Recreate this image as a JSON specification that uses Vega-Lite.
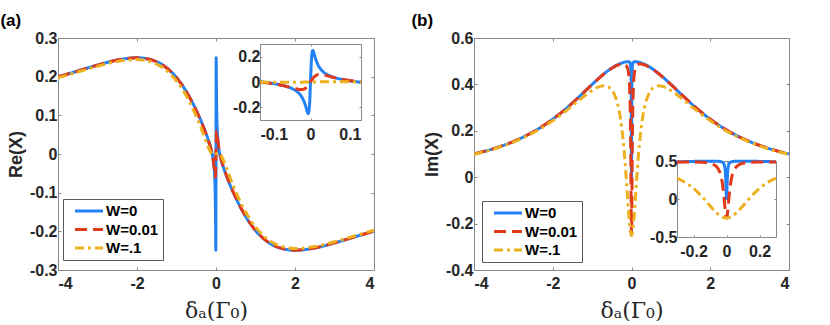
{
"$schema": "https://vega.github.io/schema/vega-lite/v6.json",
"padding": {"left": 0, "top": 12, "right": 0, "bottom": 0},
"datasets": {"curves": [
{"d":-4,"s":"W=0","re":0.1994,"im":0.1},{"d":-3.5,"s":"W=0","re":0.2147,"im":0.1231},{"d":-3,"s":"W=0","re":0.23,"im":0.1538},{"d":-2.5,"s":"W=0","re":0.243,"im":0.1951},{"d":-2,"s":"W=0","re":0.2489,"im":0.25},{"d":-1.6,"s":"W=0","re":0.2425,"im":0.3049},{"d":-1.3,"s":"W=0","re":0.2267,"im":0.3515},{"d":-1,"s":"W=0","re":0.1978,"im":0.4},{"d":-0.85,"s":"W=0","re":0.1773,"im":0.4235},{"d":-0.7,"s":"W=0","re":0.1527,"im":0.4454},{"d":-0.55,"s":"W=0","re":0.1237,"im":0.4648},{"d":-0.45,"s":"W=0","re":0.1021,"im":0.4759},{"d":-0.35,"s":"W=0","re":0.0785,"im":0.4851},{"d":-0.3,"s":"W=0","re":0.0659,"im":0.4889},{"d":-0.25,"s":"W=0","re":0.0525,"im":0.4922},{"d":-0.2,"s":"W=0","re":0.0383,"im":0.4948},{"d":-0.15,"s":"W=0","re":0.0223,"im":0.4968},{"d":-0.1,"s":"W=0","re":0.0025,"im":0.4977},{"d":-0.08,"s":"W=0","re":-0.008,"im":0.4976},{"d":-0.06,"s":"W=0","re":-0.0223,"im":0.4968},{"d":-0.05,"s":"W=0","re":-0.0321,"im":0.4957},{"d":-0.04,"s":"W=0","re":-0.0455,"im":0.4936},{"d":-0.03,"s":"W=0","re":-0.0658,"im":0.4889},{"d":-0.025,"s":"W=0","re":-0.0809,"im":0.4842},{"d":-0.02,"s":"W=0","re":-0.1021,"im":0.4759},{"d":-0.015,"s":"W=0","re":-0.1339,"im":0.4587},{"d":-0.01,"s":"W=0","re":-0.1846,"im":0.4158},{"d":-0.007,"s":"W=0","re":-0.2257,"im":0.3538},{"d":-0.0045,"s":"W=0","re":-0.2489,"im":0.25},{"d":-0.002,"s":"W=0","re":-0.1851,"im":0.0825},{"d":0,"s":"W=0","re":0,"im":0},
{"d":0.002,"s":"W=0","re":0.1851,"im":0.0825},{"d":0.0045,"s":"W=0","re":0.2489,"im":0.25},{"d":0.007,"s":"W=0","re":0.2257,"im":0.3538},{"d":0.01,"s":"W=0","re":0.1846,"im":0.4158},{"d":0.015,"s":"W=0","re":0.1339,"im":0.4587},{"d":0.02,"s":"W=0","re":0.1021,"im":0.4759},{"d":0.025,"s":"W=0","re":0.0809,"im":0.4842},{"d":0.03,"s":"W=0","re":0.0658,"im":0.4889},{"d":0.04,"s":"W=0","re":0.0455,"im":0.4936},{"d":0.05,"s":"W=0","re":0.0321,"im":0.4957},{"d":0.06,"s":"W=0","re":0.0223,"im":0.4968},{"d":0.08,"s":"W=0","re":0.008,"im":0.4976},{"d":0.1,"s":"W=0","re":-0.0025,"im":0.4977},{"d":0.15,"s":"W=0","re":-0.0223,"im":0.4968},{"d":0.2,"s":"W=0","re":-0.0383,"im":0.4948},{"d":0.25,"s":"W=0","re":-0.0525,"im":0.4922},{"d":0.3,"s":"W=0","re":-0.0659,"im":0.4889},{"d":0.35,"s":"W=0","re":-0.0785,"im":0.4851},{"d":0.45,"s":"W=0","re":-0.1021,"im":0.4759},{"d":0.55,"s":"W=0","re":-0.1237,"im":0.4648},{"d":0.7,"s":"W=0","re":-0.1527,"im":0.4454},{"d":0.85,"s":"W=0","re":-0.1773,"im":0.4235},{"d":1,"s":"W=0","re":-0.1978,"im":0.4},{"d":1.3,"s":"W=0","re":-0.2267,"im":0.3515},{"d":1.6,"s":"W=0","re":-0.2425,"im":0.3049},{"d":2,"s":"W=0","re":-0.2489,"im":0.25},{"d":2.5,"s":"W=0","re":-0.243,"im":0.1951},{"d":3,"s":"W=0","re":-0.23,"im":0.1538},{"d":3.5,"s":"W=0","re":-0.2147,"im":0.1231},{"d":4,"s":"W=0","re":-0.1994,"im":0.1},
{"d":-4,"s":"W=0.01","re":0.1994,"im":0.1},{"d":-3.5,"s":"W=0.01","re":0.2146,"im":0.1231},{"d":-3,"s":"W=0.01","re":0.2299,"im":0.1538},{"d":-2.5,"s":"W=0.01","re":0.2429,"im":0.1951},{"d":-2,"s":"W=0.01","re":0.2487,"im":0.2499},{"d":-1.6,"s":"W=0.01","re":0.2423,"im":0.3048},{"d":-1.3,"s":"W=0.01","re":0.2265,"im":0.3513},{"d":-1,"s":"W=0.01","re":0.1974,"im":0.3997},{"d":-0.85,"s":"W=0.01","re":0.1769,"im":0.4231},{"d":-0.7,"s":"W=0.01","re":0.1522,"im":0.4448},{"d":-0.55,"s":"W=0.01","re":0.1231,"im":0.4639},{"d":-0.45,"s":"W=0.01","re":0.1013,"im":0.4744},{"d":-0.35,"s":"W=0.01","re":0.0775,"im":0.4827},{"d":-0.3,"s":"W=0.01","re":0.0647,"im":0.4857},{"d":-0.25,"s":"W=0.01","re":0.0512,"im":0.4875},{"d":-0.2,"s":"W=0.01","re":0.0366,"im":0.4876},{"d":-0.15,"s":"W=0.01","re":0.0203,"im":0.4841},{"d":-0.1,"s":"W=0.01","re":-0.0001,"im":0.4699},{"d":-0.08,"s":"W=0.01","re":-0.0106,"im":0.4551},{"d":-0.06,"s":"W=0.01","re":-0.024,"im":0.4246},{"d":-0.05,"s":"W=0.01","re":-0.0323,"im":0.3963},{"d":-0.04,"s":"W=0.01","re":-0.042,"im":0.3498},{"d":-0.03,"s":"W=0.01","re":-0.0525,"im":0.2691},{"d":-0.025,"s":"W=0.01","re":-0.0572,"im":0.2072},{"d":-0.02,"s":"W=0.01","re":-0.06,"im":0.125},{"d":-0.015,"s":"W=0.01","re":-0.0587,"im":0.02},{"d":-0.01,"s":"W=0.01","re":-0.0495,"im":-0.1},{"d":-0.007,"s":"W=0.01","re":-0.0388,"im":-0.1682},{"d":-0.0045,"s":"W=0.01","re":-0.0267,"im":-0.2139},{"d":-0.002,"s":"W=0.01","re":-0.0124,"im":-0.2426},{"d":0,"s":"W=0.01","re":0,"im":-0.25},
{"d":0.002,"s":"W=0.01","re":0.0124,"im":-0.2426},{"d":0.0045,"s":"W=0.01","re":0.0267,"im":-0.2139},{"d":0.007,"s":"W=0.01","re":0.0388,"im":-0.1682},{"d":0.01,"s":"W=0.01","re":0.0495,"im":-0.1},{"d":0.015,"s":"W=0.01","re":0.0587,"im":0.02},{"d":0.02,"s":"W=0.01","re":0.06,"im":0.125},{"d":0.025,"s":"W=0.01","re":0.0572,"im":0.2072},{"d":0.03,"s":"W=0.01","re":0.0525,"im":0.2691},{"d":0.04,"s":"W=0.01","re":0.042,"im":0.3498},{"d":0.05,"s":"W=0.01","re":0.0323,"im":0.3963},{"d":0.06,"s":"W=0.01","re":0.024,"im":0.4246},{"d":0.08,"s":"W=0.01","re":0.0106,"im":0.4551},{"d":0.1,"s":"W=0.01","re":0.0001,"im":0.4699},{"d":0.15,"s":"W=0.01","re":-0.0203,"im":0.4841},{"d":0.2,"s":"W=0.01","re":-0.0366,"im":0.4876},{"d":0.25,"s":"W=0.01","re":-0.0512,"im":0.4875},{"d":0.3,"s":"W=0.01","re":-0.0647,"im":0.4857},{"d":0.35,"s":"W=0.01","re":-0.0775,"im":0.4827},{"d":0.45,"s":"W=0.01","re":-0.1013,"im":0.4744},{"d":0.55,"s":"W=0.01","re":-0.1231,"im":0.4639},{"d":0.7,"s":"W=0.01","re":-0.1522,"im":0.4448},{"d":0.85,"s":"W=0.01","re":-0.1769,"im":0.4231},{"d":1,"s":"W=0.01","re":-0.1974,"im":0.3997},{"d":1.3,"s":"W=0.01","re":-0.2265,"im":0.3513},{"d":1.6,"s":"W=0.01","re":-0.2423,"im":0.3048},{"d":2,"s":"W=0.01","re":-0.2487,"im":0.2499},{"d":2.5,"s":"W=0.01","re":-0.2429,"im":0.1951},{"d":3,"s":"W=0.01","re":-0.2299,"im":0.1538},{"d":3.5,"s":"W=0.01","re":-0.2146,"im":0.1231},{"d":4,"s":"W=0.01","re":-0.1994,"im":0.1},
{"d":-4,"s":"W=.1","re":0.1971,"im":0.0983},{"d":-3.5,"s":"W=.1","re":0.2121,"im":0.1209},{"d":-3,"s":"W=.1","re":0.227,"im":0.1509},{"d":-2.5,"s":"W=.1","re":0.2393,"im":0.1908},{"d":-2,"s":"W=.1","re":0.2443,"im":0.2433},{"d":-1.6,"s":"W=.1","re":0.2368,"im":0.2944},{"d":-1.3,"s":"W=.1","re":0.2198,"im":0.3358},{"d":-1,"s":"W=.1","re":0.1889,"im":0.3739},{"d":-0.85,"s":"W=.1","re":0.1671,"im":0.3878},{"d":-0.7,"s":"W=.1","re":0.1406,"im":0.394},{"d":-0.55,"s":"W=.1","re":0.1092,"im":0.3849},{"d":-0.45,"s":"W=.1","re":0.0854,"im":0.3624},{"d":-0.35,"s":"W=.1","re":0.0595,"im":0.3144},{"d":-0.3,"s":"W=.1","re":0.046,"im":0.2743},{"d":-0.25,"s":"W=.1","re":0.0324,"im":0.2177},{"d":-0.2,"s":"W=.1","re":0.0193,"im":0.1393},{"d":-0.15,"s":"W=.1","re":0.0079,"im":0.0352},{"d":-0.1,"s":"W=.1","re":0,"im":-0.0886},{"d":-0.08,"s":"W=.1","re":-0.0016,"im":-0.1379},{"d":-0.06,"s":"W=.1","re":-0.0024,"im":-0.1824},{"d":-0.05,"s":"W=.1","re":-0.0024,"im":-0.2017},{"d":-0.04,"s":"W=.1","re":-0.0022,"im":-0.2184},{"d":-0.03,"s":"W=.1","re":-0.0018,"im":-0.2319},{"d":-0.025,"s":"W=.1","re":-0.0016,"im":-0.2373},{"d":-0.02,"s":"W=.1","re":-0.0013,"im":-0.2418},{"d":-0.015,"s":"W=.1","re":-0.001,"im":-0.2454},{"d":-0.01,"s":"W=.1","re":-0.0007,"im":-0.2479},{"d":-0.007,"s":"W=.1","re":-0.0005,"im":-0.249},{"d":-0.0045,"s":"W=.1","re":-0.0003,"im":-0.2496},{"d":-0.002,"s":"W=.1","re":-0.0001,"im":-0.2499},{"d":0,"s":"W=.1","re":0,"im":-0.25},
{"d":0.002,"s":"W=.1","re":0.0001,"im":-0.2499},{"d":0.0045,"s":"W=.1","re":0.0003,"im":-0.2496},{"d":0.007,"s":"W=.1","re":0.0005,"im":-0.249},{"d":0.01,"s":"W=.1","re":0.0007,"im":-0.2479},{"d":0.015,"s":"W=.1","re":0.001,"im":-0.2454},{"d":0.02,"s":"W=.1","re":0.0013,"im":-0.2418},{"d":0.025,"s":"W=.1","re":0.0016,"im":-0.2373},{"d":0.03,"s":"W=.1","re":0.0018,"im":-0.2319},{"d":0.04,"s":"W=.1","re":0.0022,"im":-0.2184},{"d":0.05,"s":"W=.1","re":0.0024,"im":-0.2017},{"d":0.06,"s":"W=.1","re":0.0024,"im":-0.1824},{"d":0.08,"s":"W=.1","re":0.0016,"im":-0.1379},{"d":0.1,"s":"W=.1","re":0,"im":-0.0886},{"d":0.15,"s":"W=.1","re":-0.0079,"im":0.0352},{"d":0.2,"s":"W=.1","re":-0.0193,"im":0.1393},{"d":0.25,"s":"W=.1","re":-0.0324,"im":0.2177},{"d":0.3,"s":"W=.1","re":-0.046,"im":0.2743},{"d":0.35,"s":"W=.1","re":-0.0595,"im":0.3144},{"d":0.45,"s":"W=.1","re":-0.0854,"im":0.3624},{"d":0.55,"s":"W=.1","re":-0.1092,"im":0.3849},{"d":0.7,"s":"W=.1","re":-0.1406,"im":0.394},{"d":0.85,"s":"W=.1","re":-0.1671,"im":0.3878},{"d":1,"s":"W=.1","re":-0.1889,"im":0.3739},{"d":1.3,"s":"W=.1","re":-0.2198,"im":0.3358},{"d":1.6,"s":"W=.1","re":-0.2368,"im":0.2944},{"d":2,"s":"W=.1","re":-0.2443,"im":0.2433},{"d":2.5,"s":"W=.1","re":-0.2393,"im":0.1908},{"d":3,"s":"W=.1","re":-0.227,"im":0.1509},{"d":3.5,"s":"W=.1","re":-0.2121,"im":0.1209},{"d":4,"s":"W=.1","re":-0.1971,"im":0.0983}
]},
"config": {
  "font": "Liberation Sans",
  "view": {"stroke": null},
  "axis": {"grid": false, "labelFont": "Liberation Sans", "labelFontWeight": "bold", "labelFontSize": 16, "labelColor": "#262626", "domainColor": "#8a8a8a", "tickColor": "#8a8a8a", "titleFont": "Liberation Sans", "titleFontWeight": "bold", "titleFontSize": 18, "titleColor": "#262626"},
  "legend": {"labelFont": "Liberation Sans", "labelFontWeight": "bold", "labelFontSize": 15, "labelColor": "#000000", "title": null, "symbolType": "M-2.15,0H2.15", "symbolSize": 169, "symbolStrokeWidth": 3, "strokeColor": "#595959", "fillColor": "#ffffff", "padding": 4, "rowPadding": 2.5, "symbolOffset": 14, "labelOffset": 9},
  "title": {"font": "Liberation Sans", "fontWeight": "bold", "fontSize": 17, "color": "#000000"}
},
"spacing": 36,
"resolve": {"scale": {"color": "independent", "strokeDash": "independent"}},
"hconcat": [
{
  "title": {"text": "(a)", "anchor": "start", "frame": "bounds", "offset": 0, "dx": -7},
  "width": 316, "height": 232,
  "data": {"name": "curves"},
  "resolve": {"scale": {"x": "independent", "y": "independent"}},
  "layer": [
    {"layer": [
      {"mark": {"type": "line", "strokeWidth": 3, "interpolate": "monotone", "clip": true},
       "encoding": {
        "x": {"field": "d", "type": "quantitative", "scale": {"domain": [-4, 4], "nice": false, "zero": false},
              "axis": {"orient": "bottom", "values": [-4, -2, 0, 2, 4], "format": "~g", "labelExpr": "replace(datum.label, '−', '-')", "title": "δₐ(Γ₀)", "titleFont": "DejaVu Serif", "titleFontWeight": "normal", "titleFontSize": 22, "tickSize": -3, "labelPadding": 8, "titlePadding": 9}},
        "y": {"field": "re", "type": "quantitative", "scale": {"domain": [-0.3, 0.3], "nice": false, "zero": false},
              "axis": {"orient": "left", "values": [-0.3, -0.2, -0.1, 0, 0.1, 0.2, 0.3], "format": "~g", "labelExpr": "replace(datum.label, '−', '-')", "title": "Re(X)", "tickSize": -3, "labelPadding": 4, "titlePadding": 4}},
        "color": {"field": "s", "type": "nominal", "scale": {"domain": ["W=0", "W=0.01", "W=.1"], "range": ["#2181F5", "#E2391B", "#EDB120"]},
                  "legend": {"orient": "none", "legendX": 5, "legendY": 161}},
        "strokeDash": {"field": "s", "type": "nominal", "scale": {"domain": ["W=0", "W=0.01", "W=.1"], "range": [[1, 0], [12, 6], [9, 4, 3, 4]]},
                  "legend": {"orient": "none", "legendX": 5, "legendY": 161}}
       }},
      {"mark": {"type": "line", "opacity": 0},
       "encoding": {
        "x": {"field": "d", "type": "quantitative", "scale": {"domain": [-4, 4], "nice": false, "zero": false},
              "axis": {"orient": "top", "values": [-4, -2, 0, 2, 4], "labels": false, "title": null, "tickSize": -3}},
        "y": {"field": "re", "type": "quantitative", "scale": {"domain": [-0.3, 0.3], "nice": false, "zero": false},
              "axis": {"orient": "right", "values": [-0.3, -0.2, -0.1, 0, 0.1, 0.2, 0.3], "labels": false, "title": null, "tickSize": -3}}
       }}
    ]},
    {"transform": [{"filter": "datum.d >= -0.1 && datum.d <= 0.1"}],
     "layer": [
      {"mark": {"type": "line", "strokeWidth": 3, "interpolate": "monotone", "clip": true},
       "encoding": {
        "x": {"field": "d", "type": "quantitative", "scale": {"domain": [-0.1, 0.1], "nice": false, "zero": false, "range": [202, 303]},
              "axis": {"orient": "bottom", "offset": -150, "values": [-0.1, 0, 0.1], "format": "~g", "labelExpr": "replace(datum.label, '−', '-')", "title": null, "tickSize": -2, "labelPadding": 8}},
        "y": {"field": "re", "type": "quantitative", "scale": {"domain": [-0.3, 0.3], "nice": false, "zero": false, "range": [82, 6]},
              "axis": {"orient": "left", "offset": -202, "values": [-0.2, 0, 0.2], "format": "~g", "labelExpr": "replace(datum.label, '−', '-')", "title": null, "tickSize": -2, "labelPadding": 2}},
        "color": {"field": "s", "type": "nominal", "legend": null},
        "strokeDash": {"field": "s", "type": "nominal", "legend": null}
       }},
      {"mark": {"type": "line", "opacity": 0},
       "encoding": {
        "x": {"field": "d", "type": "quantitative", "scale": {"domain": [-0.1, 0.1], "nice": false, "zero": false, "range": [202, 303]},
              "axis": {"orient": "top", "offset": -6, "values": [-0.1, 0, 0.1], "labels": false, "title": null, "tickSize": -2}},
        "y": {"field": "re", "type": "quantitative", "scale": {"domain": [-0.3, 0.3], "nice": false, "zero": false, "range": [82, 6]},
              "axis": {"orient": "right", "offset": -13, "values": [-0.2, 0, 0.2], "labels": false, "title": null, "tickSize": -2}}
       }}
    ]}
  ]
},
{
  "title": {"text": "(b)", "anchor": "start", "frame": "bounds", "offset": 0, "dx": -12},
  "width": 315, "height": 232,
  "data": {"name": "curves"},
  "resolve": {"scale": {"x": "independent", "y": "independent"}},
  "layer": [
    {"layer": [
      {"mark": {"type": "line", "strokeWidth": 3, "interpolate": "monotone", "clip": true},
       "encoding": {
        "x": {"field": "d", "type": "quantitative", "scale": {"domain": [-4, 4], "nice": false, "zero": false},
              "axis": {"orient": "bottom", "values": [-4, -2, 0, 2, 4], "format": "~g", "labelExpr": "replace(datum.label, '−', '-')", "title": "δₐ(Γ₀)", "titleFont": "DejaVu Serif", "titleFontWeight": "normal", "titleFontSize": 22, "tickSize": -3, "labelPadding": 8, "titlePadding": 9}},
        "y": {"field": "im", "type": "quantitative", "scale": {"domain": [-0.4, 0.6], "nice": false, "zero": false},
              "axis": {"orient": "left", "values": [-0.4, -0.2, 0, 0.2, 0.4, 0.6], "format": "~g", "labelExpr": "replace(datum.label, '−', '-')", "title": "Im(X)", "tickSize": -3, "labelPadding": 4, "titlePadding": 4}},
        "color": {"field": "s", "type": "nominal", "scale": {"domain": ["W=0", "W=0.01", "W=.1"], "range": ["#2181F5", "#E2391B", "#EDB120"]},
                  "legend": {"orient": "none", "legendX": 8, "legendY": 163}},
        "strokeDash": {"field": "s", "type": "nominal", "scale": {"domain": ["W=0", "W=0.01", "W=.1"], "range": [[1, 0], [12, 6], [9, 4, 3, 4]]},
                  "legend": {"orient": "none", "legendX": 8, "legendY": 163}}
       }},
      {"mark": {"type": "line", "opacity": 0},
       "encoding": {
        "x": {"field": "d", "type": "quantitative", "scale": {"domain": [-4, 4], "nice": false, "zero": false},
              "axis": {"orient": "top", "values": [-4, -2, 0, 2, 4], "labels": false, "title": null, "tickSize": -3}},
        "y": {"field": "im", "type": "quantitative", "scale": {"domain": [-0.4, 0.6], "nice": false, "zero": false},
              "axis": {"orient": "right", "values": [-0.4, -0.2, 0, 0.2, 0.4, 0.6], "labels": false, "title": null, "tickSize": -3}}
       }}
    ]},
    {"transform": [{"filter": "datum.d >= -0.3 && datum.d <= 0.3"}],
     "layer": [
      {"mark": {"type": "line", "strokeWidth": 3, "interpolate": "monotone", "clip": true},
       "encoding": {
        "x": {"field": "d", "type": "quantitative", "scale": {"domain": [-0.3, 0.3], "nice": false, "zero": false, "range": [203, 302]},
              "axis": {"orient": "bottom", "offset": -33, "values": [-0.2, 0, 0.2], "format": "~g", "labelExpr": "replace(datum.label, '−', '-')", "title": null, "tickSize": -2, "labelPadding": 8}},
        "y": {"field": "im", "type": "quantitative", "scale": {"domain": [-0.5, 0.5], "nice": false, "zero": false, "range": [199, 123]},
              "axis": {"orient": "left", "offset": -203, "values": [-0.5, 0, 0.5], "format": "~g", "labelExpr": "replace(datum.label, '−', '-')", "title": null, "tickSize": -2, "labelPadding": 2}},
        "color": {"field": "s", "type": "nominal", "legend": null},
        "strokeDash": {"field": "s", "type": "nominal", "legend": null}
       }},
      {"mark": {"type": "line", "opacity": 0},
       "encoding": {
        "x": {"field": "d", "type": "quantitative", "scale": {"domain": [-0.3, 0.3], "nice": false, "zero": false, "range": [203, 302]},
              "axis": {"orient": "top", "offset": -123, "values": [-0.2, 0, 0.2], "labels": false, "title": null, "tickSize": -2}},
        "y": {"field": "im", "type": "quantitative", "scale": {"domain": [-0.5, 0.5], "nice": false, "zero": false, "range": [199, 123]},
              "axis": {"orient": "right", "offset": -13, "values": [-0.5, 0, 0.5], "labels": false, "title": null, "tickSize": -2}}
       }}
    ]}
  ]
}
]
}
